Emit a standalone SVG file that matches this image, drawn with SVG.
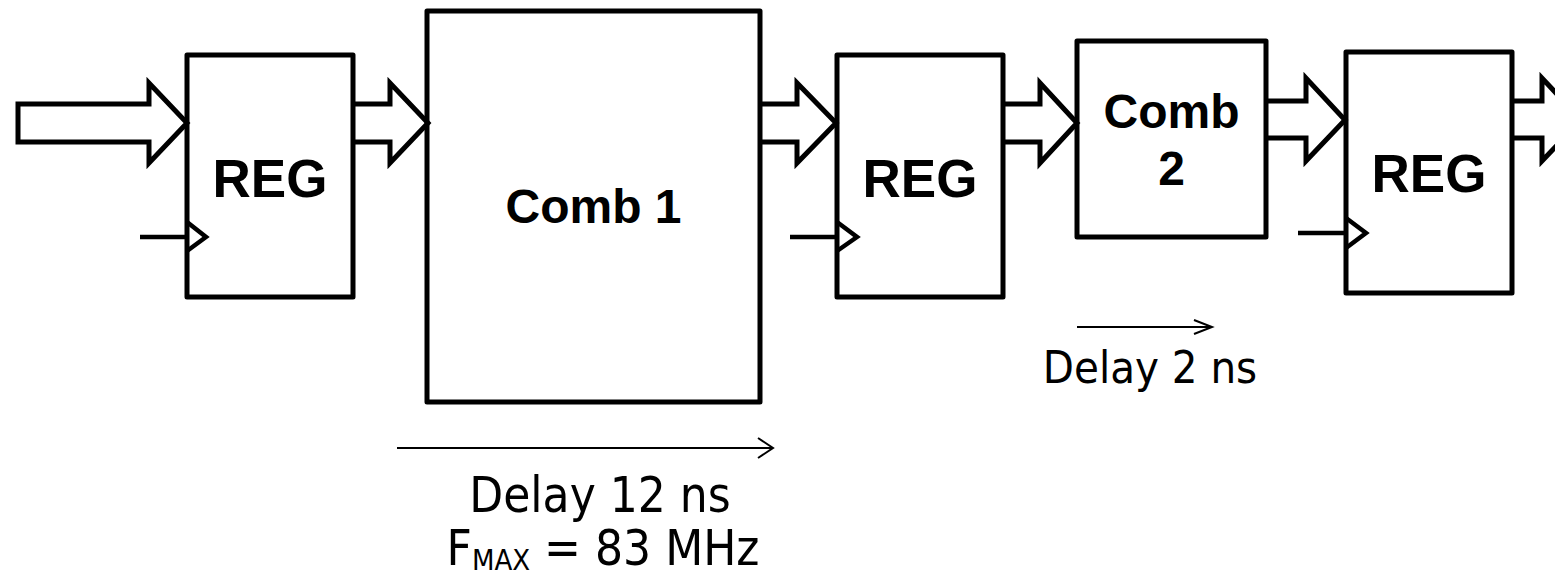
<svg xmlns="http://www.w3.org/2000/svg" width="1555" height="574" viewBox="0 0 1555 574">
<style>
.box{fill:#fff;stroke:#000;stroke-width:5;stroke-linejoin:round}
.bus{fill:none;stroke:#000;stroke-width:5;stroke-linejoin:miter}
.clk{fill:none;stroke:#000;stroke-width:4.5}
.thin{fill:none;stroke:#000;stroke-width:2}
.lbl{font-family:"Liberation Sans",Arial,sans-serif;font-weight:bold;text-anchor:middle;fill:#000}
.note{font-family:"DejaVu Sans Condensed","DejaVu Sans",sans-serif;font-stretch:condensed;text-anchor:middle;fill:#000}
</style>
<rect width="1555" height="574" fill="#fff"/>
<g id="reg1">
<rect class="box" x="187" y="55" width="166" height="242"/>
<text class="lbl" x="270" y="197" font-size="53">REG</text>
</g>
<g id="comb1">
<rect class="box" x="427" y="11" width="333" height="391"/>
<text class="lbl" x="593.5" y="223" font-size="48">Comb 1</text>
</g>
<g id="reg2">
<rect class="box" x="837" y="55" width="166" height="242"/>
<text class="lbl" x="920" y="197" font-size="53">REG</text>
</g>
<g id="comb2">
<rect class="box" x="1077" y="41" width="189" height="196"/>
<text class="lbl" x="1171.5" y="128" font-size="48">Comb</text>
<text class="lbl" x="1171.5" y="185" font-size="48">2</text>
</g>
<g id="reg3">
<rect class="box" x="1346" y="52" width="166" height="241"/>
<text class="lbl" x="1429" y="192" font-size="53">REG</text>
</g>
<g id="connectors">
<path class="bus" d="M18,104 H149 V83 L187,123 L149,163 V142 H18 Z"/>
<path class="bus" d="M353,104 H390 V83 L428,123 L390,163 V142 H353"/>
<path class="bus" d="M760,104 H797 V83 L836,123 L797,163 V142 H760"/>
<path class="bus" d="M1003,104 H1040 V83 L1077,123 L1040,163 V142 H1003"/>
<path class="bus" d="M1266,101 H1306 V78 L1345,120 L1306,161 V138 H1266"/>
<path class="bus" d="M1512,101 H1542 V78 L1581,120 L1542,161 V138 H1512"/>
<path class="clk" d="M140,237 H187 M187,222 L206,237 L187,251"/>
<path class="clk" d="M790,237 H837 M837,222 L857,237 L837,251"/>
<path class="clk" d="M1298,233 H1346 M1346,218 L1366,233 L1346,248"/>
<path class="thin" d="M397,448 H773 M758,438 L773,448 L758,458"/>
<path class="thin" d="M1077,327 H1212 M1194,320 L1212,327 L1194,334"/>
</g>
<g id="notes">
<text class="note" x="1150" y="383" font-size="45">Delay 2 ns</text>
<text class="note" x="600" y="512" font-size="49">Delay 12 ns</text>
<text class="note" x="603" y="565" font-size="49">F<tspan font-size="29" dy="5">MAX</tspan><tspan dy="-5"> = 83 MHz</tspan></text>
</g>
</svg>
